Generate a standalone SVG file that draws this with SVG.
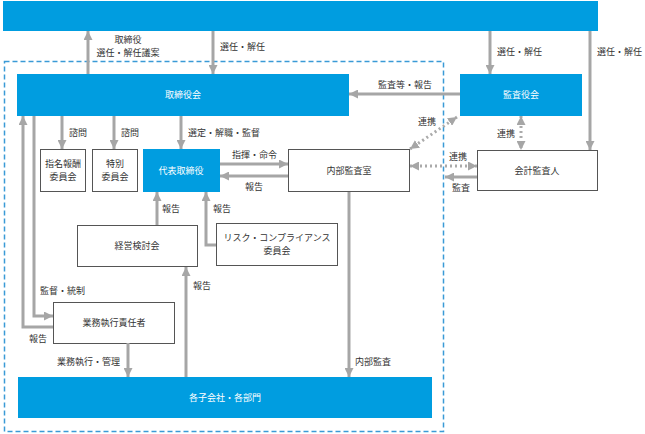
<svg xmlns="http://www.w3.org/2000/svg" width="645" height="434" viewBox="0 0 645 434">
<style>
text{font-family:"Noto Sans CJK JP","Noto Sans",sans-serif;font-size:9px;fill:#333}
.w{fill:#fff}
.c{text-anchor:middle}
.blue{fill:#009de0}
.box{fill:#fff;stroke:#555;stroke-width:1}
.ln{fill:none;stroke:#a6a6a6;stroke-width:3}
.dot{fill:none;stroke:#aaa;stroke-width:3;stroke-dasharray:2 3}
</style>
<defs>
<marker id="ah" viewBox="0 0 10 10" refX="10" refY="5" markerWidth="9" markerHeight="9" markerUnits="userSpaceOnUse" orient="auto-start-reverse">
<path d="M0,0 L10,5 L0,10 Z" fill="#a6a6a6"/>
</marker>
</defs>
<rect x="4.5" y="61.5" width="439" height="370" fill="none" stroke="#3a9ad6" stroke-width="1.5" stroke-dasharray="5 3"/>
<g id="shareholders"><rect class="blue" x="3" y="1" width="595" height="30"/></g>
<g id="board"><rect class="blue" x="17" y="74" width="332" height="42"/><text class="w c" x="183" y="98">取締役会</text></g>
<g id="audit-board"><rect class="blue" x="460" y="74" width="122" height="42"/><text class="w c" x="521" y="98">監査役会</text></g>
<g id="nomination"><rect class="box" x="40.5" y="149.5" width="45" height="42"/><text class="c" x="63" y="167">指名報酬</text><text class="c" x="63" y="180">委員会</text></g>
<g id="special"><rect class="box" x="92.5" y="149.5" width="45" height="42"/><text class="c" x="115" y="167">特別</text><text class="c" x="115" y="180">委員会</text></g>
<g id="ceo"><rect class="blue" x="143" y="149" width="77" height="43"/><text class="w c" x="181" y="174">代表取締役</text></g>
<g id="internal-audit"><rect class="box" x="288.5" y="149.5" width="121" height="42"/><text class="c" x="349" y="174">内部監査室</text></g>
<g id="accounting-auditor"><rect class="box" x="477.5" y="150.5" width="120" height="40"/><text class="c" x="537" y="174">会計監査人</text></g>
<g id="management-review"><rect class="box" x="77.5" y="225.5" width="120" height="41"/><text class="c" x="137" y="249">経営検討会</text></g>
<g id="risk"><rect class="box" x="216.5" y="223.5" width="121" height="42"/><text class="c" x="277" y="241">リスク・コンプライアンス</text><text class="c" x="277" y="254">委員会</text></g>
<g id="executive"><rect class="box" x="53.5" y="302.5" width="121" height="41"/><text class="c" x="114" y="326">業務執行責任者</text></g>
<g id="subsidiaries"><rect class="blue" x="18" y="377" width="414" height="41"/><text class="w c" x="225" y="401">各子会社・各部門</text></g>
<g id="connectors">
<line class="ln" x1="88" y1="74" x2="88" y2="31" marker-end="url(#ah)"/>
<line class="ln" x1="213" y1="31" x2="213" y2="74" marker-end="url(#ah)"/>
<line class="ln" x1="490" y1="31" x2="490" y2="74" marker-end="url(#ah)"/>
<line class="ln" x1="590" y1="31" x2="590" y2="150" marker-end="url(#ah)"/>
<line class="ln" x1="460" y1="94" x2="349" y2="94" marker-end="url(#ah)"/>
<line class="ln" x1="62" y1="116" x2="62" y2="149" marker-end="url(#ah)"/>
<line class="ln" x1="114" y1="116" x2="114" y2="149" marker-end="url(#ah)"/>
<line class="ln" x1="181" y1="116" x2="181" y2="149" marker-end="url(#ah)"/>
<line class="ln" x1="220" y1="164" x2="288" y2="164" marker-end="url(#ah)"/>
<line class="ln" x1="288" y1="176" x2="220" y2="176" marker-end="url(#ah)"/>
<line class="ln" x1="157" y1="225" x2="157" y2="192" marker-end="url(#ah)"/>
<path class="ln" d="M216,245 H206 V192" marker-end="url(#ah)"/>
<line class="ln" x1="186" y1="377" x2="186" y2="267" marker-end="url(#ah)"/>
<line class="ln" x1="128" y1="343" x2="128" y2="377" marker-end="url(#ah)"/>
<line class="ln" x1="349" y1="192" x2="349" y2="377" marker-end="url(#ah)"/>
<path class="ln" d="M53,327 H23 V116" marker-end="url(#ah)"/>
<path class="ln" d="M34,116 V316 H53" marker-end="url(#ah)"/>
<line class="ln" x1="477" y1="177" x2="445" y2="177" marker-end="url(#ah)"/>
<line class="dot" x1="521" y1="116" x2="521" y2="150" marker-start="url(#ah)" marker-end="url(#ah)"/>
<line class="dot" x1="410" y1="166" x2="477" y2="166" marker-start="url(#ah)" marker-end="url(#ah)"/>
<line class="dot" x1="457" y1="117" x2="410" y2="149" marker-start="url(#ah)" marker-end="url(#ah)"/>
</g>
<g id="labels">
<text class="c" x="128" y="43">取締役</text>
<text class="c" x="128" y="56">選任・解任議案</text>
<text x="220" y="50">選任・解任</text>
<text x="497" y="55">選任・解任</text>
<text x="597" y="55">選任・解任</text>
<text x="378" y="88">監査等・報告</text>
<text x="69" y="136">諮問</text>
<text x="121" y="136">諮問</text>
<text x="188" y="136">選定・解職・監督</text>
<text x="418" y="125">連携</text>
<text x="497" y="137">連携</text>
<text x="449" y="160">連携</text>
<text x="452" y="191">監査</text>
<text x="232" y="158">指揮・命令</text>
<text x="245" y="190">報告</text>
<text x="162" y="212">報告</text>
<text x="213" y="212">報告</text>
<text x="193" y="289">報告</text>
<text x="40" y="294">監督・統制</text>
<text x="29" y="342">報告</text>
<text x="57" y="365">業務執行・管理</text>
<text x="355" y="365">内部監査</text>
</g>
</svg>
